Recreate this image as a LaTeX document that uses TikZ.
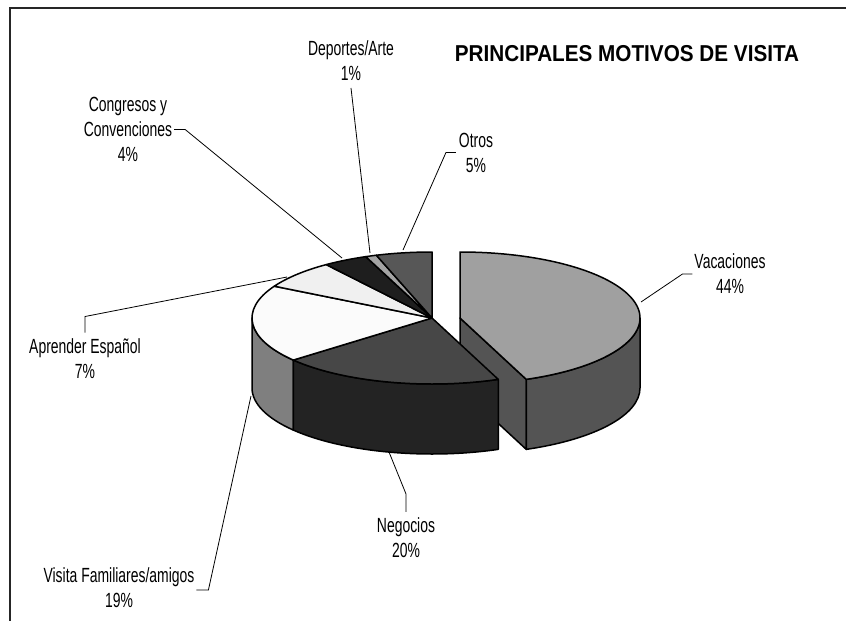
\documentclass[tikz,border=0pt]{standalone}
\usepackage{fontspec}
\setmainfont{Liberation Sans}[FakeStretch=0.68]
\newfontfamily\titlefont{Liberation Sans}[FakeStretch=0.9]
\usetikzlibrary{calc}
\definecolor{vacTop}{HTML}{A0A0A0}
\definecolor{vacSide}{HTML}{545454}
\definecolor{negTop}{HTML}{474747}
\definecolor{negSide}{HTML}{232323}
\definecolor{visTop}{HTML}{FBFBFB}
\definecolor{visSide}{HTML}{7F7F7F}
\definecolor{aprTop}{HTML}{F0F0F0}
\definecolor{conTop}{HTML}{1E1E1E}
\definecolor{depTop}{HTML}{A3A3A3}
\definecolor{otrTop}{HTML}{575757}
\begin{document}
\begin{tikzpicture}[x=1pt,y=1pt,
	slice/.style={draw=black,line width=1.5pt,line join=round},
	leader/.style={draw=black,line width=0.8pt},
	lbl/.style={align=center,inner sep=0pt,outer sep=0pt,font=\fontsize{20.5}{25}\selectfont}]
	\useasboundingbox (0,0) rectangle (846,-621);
	\fill[white] (0,0) rectangle (846,-621);
	\draw[line width=1.2pt,black!85] (10,-650) -- (10,-8) -- (870,-8);
	\node[inner sep=0pt,font=\titlefont\bfseries\fontsize{23}{26}\selectfont] (title) at (627,-53.5) {PRINCIPALES MOTIVOS DE VISITA};

	\coordinate (c) at (432,-318);
	\coordinate (cv) at (460,-318);

	% Vacaciones, pulled out
	\filldraw[slice,fill=vacSide] (cv) -- ($(cv)+(-68.4:180 and 66)$) -- ++(0,-70) -- ($(cv)+(0,-70)$) -- cycle;
	\filldraw[slice,fill=vacSide] ($(cv)+(-68.4:180 and 66)$) arc[start angle=-68.4,end angle=0,x radius=180,y radius=66] -- ++(0,-70) arc[start angle=0,end angle=-68.4,x radius=180,y radius=66] -- cycle;
	\filldraw[slice,fill=vacTop] (cv) -- ($(cv)+(-68.4:180 and 66)$) arc[start angle=-68.4,end angle=90,x radius=180,y radius=66] -- cycle;

	\filldraw[slice,fill=visSide] ($(c)+(180:180 and 66)$) arc[start angle=180,end angle=219.6,x radius=180,y radius=66] -- ++(0,-70) arc[start angle=219.6,end angle=180,x radius=180,y radius=66] -- cycle;
	\filldraw[slice,fill=negSide] ($(c)+(-140.4:180 and 66)$) arc[start angle=-140.4,end angle=-68.4,x radius=180,y radius=66] -- ++(0,-70) arc[start angle=-68.4,end angle=-140.4,x radius=180,y radius=66] -- cycle;

	\filldraw[slice,fill=negTop] (c) -- ($(c)+(-140.4:180 and 66)$) arc[start angle=-140.4,end angle=-68.4,x radius=180,y radius=66] -- cycle;
	\filldraw[slice,fill=visTop] (c) -- ($(c)+(151.2:180 and 66)$) arc[start angle=151.2,end angle=219.6,x radius=180,y radius=66] -- cycle;
	\filldraw[slice,fill=aprTop] (c) -- ($(c)+(126:180 and 66)$) arc[start angle=126,end angle=151.2,x radius=180,y radius=66] -- cycle;
	\filldraw[slice,fill=conTop] (c) -- ($(c)+(111.6:180 and 66)$) arc[start angle=111.6,end angle=126,x radius=180,y radius=66] -- cycle;
	\filldraw[slice,fill=depTop] (c) -- ($(c)+(108:180 and 66)$) arc[start angle=108,end angle=111.6,x radius=180,y radius=66] -- cycle;
	\filldraw[slice,fill=otrTop] (c) -- ($(c)+(90:180 and 66)$) arc[start angle=90,end angle=108,x radius=180,y radius=66] -- cycle;

	\node[lbl] (vac) at (730,-274) {Vacaciones\\44\%};
	\node[lbl] (neg) at (406,-538) {Negocios\\20\%};
	\node[lbl] (vis) at (119,-588) {Visita Familiares/amigos\\19\%};
	\node[lbl] (apr) at (85,-358.5) {Aprender Español\\7\%};
	\node[lbl] (con) at (128,-129.5) {Congresos y\\Convenciones\\4\%};
	\node[lbl] (dep) at (351,-61) {Deportes/Arte\\1\%};
	\node[lbl] (otr) at (476,-152.5) {Otros\\5\%};

	\coordinate (vac-pt) at (641,-302);
	\coordinate (neg-pt) at (389,-452);
	\coordinate (vis-pt) at (251,-396);
	\coordinate (apr-pt) at (287,-277);
	\coordinate (con-pt) at (342,-258);
	\coordinate (dep-pt) at (370,-253);
	\coordinate (otr-pt) at (403,-250);

	\draw[leader] ([xshift=-2]vac.west) -- ++(-10,0) -- (vac-pt);
	\draw[leader] ([yshift=6]neg.north) -- ++(0,18) -- (neg-pt);
	\draw[leader] ([xshift=2,yshift=-2]vis.east) -- ++(12,0) -- (vis-pt);
	\draw[leader] ([yshift=6]apr.north) -- ++(0,16) -- (apr-pt);
	\draw[leader] ([xshift=2]con.east) -- ++(11,0) -- (con-pt);
	\draw[leader] ([yshift=-7]dep.south) -- (dep-pt);
	\draw[leader] ([xshift=-3]otr.west) -- ++(-10,0) -- (otr-pt);
\end{tikzpicture}
\end{document}
